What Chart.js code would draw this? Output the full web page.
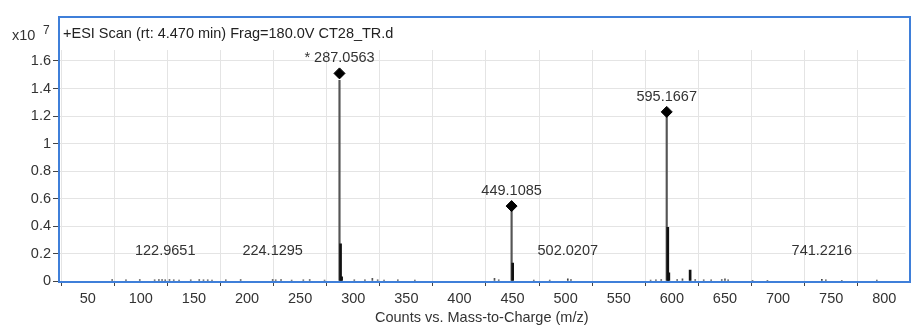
<!DOCTYPE html>
<html>
<head>
<meta charset="utf-8">
<script src="https://cdn.jsdelivr.net/npm/chart.js@4.4.1/dist/chart.umd.min.js"></script>
<style>
  html, body { margin: 0; padding: 0; background: #fff; }
  #wrap { position: relative; width: 912px; height: 329px; }
</style>
</head>
<body>
<div id="wrap"><canvas id="spec"></canvas></div>
<script>
// ── Datos (intensidades en unidades de 1e7) ────────────────
const titleText  = '+ESI Scan (rt: 4.470 min) Frag=180.0V CT28_TR.d';
const xTitle     = 'Counts vs. Mass-to-Charge (m/z)';
const xTicks     = [50, 100, 150, 200, 250, 300, 350, 400, 450, 500, 550, 600, 650, 700, 750, 800];
const yTicks     = [0, 0.2, 0.4, 0.6, 0.8, 1, 1.2, 1.4, 1.6];

// picos principales marcados con rombo
const mainMz     = [287.0563, 449.1085, 595.1667];
const mainInt    = [1.46, 0.52, 1.19];
const markerInt  = [1.51, 0.545, 1.23];
const mainLabels = ['* 287.0563', '449.1085', '595.1667'];

// picos menores rotulados (rótulo a altura fija)
const minorMz     = [122.9651, 224.1295, 502.0207, 741.2216];
const minorInt    = [0.008, 0.01, 0.015, 0.012];
const minorLabelY = 0.218;

// isótopos / picos secundarios
const isoMz  = [288.06, 289.06, 450.11, 596.17, 597.17, 617.2];
const isoInt = [0.27, 0.03, 0.13, 0.39, 0.06, 0.08];

// ruido de fondo
const noiseMz  = [73, 86, 99, 113, 117, 120, 127, 131, 136, 147, 155, 159, 163, 167, 180, 194, 227, 232,
                  242, 253, 259, 273, 301, 311, 318, 323, 329, 342, 358, 433, 437, 470, 485, 505, 580,
                  585, 590, 605, 610, 622, 630, 637, 647, 650, 653, 676, 690, 745, 760, 793];
const noiseInt = [0.01, 0.008, 0.01, 0.008, 0.01, 0.01, 0.01, 0.008, 0.006, 0.008, 0.01, 0.008, 0.008, 0.006, 0.008, 0.01, 0.008, 0.01,
                  0.006, 0.008, 0.01, 0.006, 0.008, 0.008, 0.02, 0.008, 0.006, 0.008, 0.006, 0.02, 0.008, 0.006, 0.006, 0.01, 0.006,
                  0.008, 0.01, 0.01, 0.015, 0.01, 0.008, 0.008, 0.01, 0.015, 0.008, 0.005, 0.005, 0.008, 0.005, 0.006];

const pts = (xs, ys) => xs.map((x, i) => ({ x, y: ys[i] }));
const FONT = 'Liberation Sans, Arial, sans-serif';
const FS = 14.5;
const fmt = v => String(+Number(v).toFixed(1));

// ── Plugin: marco azul, títulos y rótulos ──────────────────
const decor = {
  id: 'decor',
  afterDraw(chart) {
    const { ctx, scales: { x, y } } = chart;
    ctx.save();
    ctx.fillStyle = '#333';
    ctx.textBaseline = 'middle';
    ctx.font = FS + 'px ' + FONT;

    // etiquetas de picos principales
    ctx.textAlign = 'center';
    mainMz.forEach((mz, i) => {
      ctx.fillText(mainLabels[i], x.getPixelForValue(mz), y.getPixelForValue(markerInt[i]) - 15);
    });
    minorMz.forEach(mz => {
      ctx.fillText(mz.toFixed(4), x.getPixelForValue(mz), y.getPixelForValue(minorLabelY));
    });

    // marco
    ctx.strokeStyle = '#3f7fd9';
    ctx.lineWidth = 2;
    ctx.strokeRect(59, 17, 851, 265);

    // título del escaneo
    ctx.textAlign = 'left';
    ctx.fillStyle = '#222';
    ctx.fillText(titleText, 63, 34);

    // multiplicador del eje y
    ctx.fillStyle = '#333';
    ctx.fillText('x10', 12, 36);
    ctx.font = '12px ' + FONT;
    ctx.fillText('7', 43, 31);

    // título del eje x
    ctx.font = FS + 'px ' + FONT;
    ctx.textAlign = 'center';
    ctx.fillText(xTitle, (chart.chartArea.left + chart.chartArea.right) / 2, 318);
    ctx.restore();
  }
};

new Chart(document.getElementById('spec'), {
  type: 'bar',
  data: {
    datasets: [
      {
        type: 'scatter', label: 'marcadores', data: pts(mainMz, markerInt),
        pointStyle: 'rectRot', pointRadius: 5.5, backgroundColor: '#000', borderColor: '#000', order: 0
      },
      { label: 'isótopos', data: pts(isoMz, isoInt), backgroundColor: '#111', barThickness: 2, order: 1 },
      { label: 'principales', data: pts(mainMz, mainInt), backgroundColor: '#555', barThickness: 1.5, order: 2 },
      { label: 'menores', data: pts(minorMz, minorInt), backgroundColor: '#444', barThickness: 1, order: 3 },
      { label: 'ruido', data: pts(noiseMz, noiseInt), backgroundColor: '#555', barThickness: 1, order: 4 }
    ]
  },
  options: {
    responsive: true, maintainAspectRatio: false, animation: false,
    layout: { padding: { top: 50, right: 2, left: 0, bottom: 0 } },
    datasets: { bar: { grouped: false } },
    plugins: { legend: { display: false }, tooltip: { enabled: false } },
    scales: {
      x: {
        type: 'linear', min: 22, max: 820, offset: false,
        afterFit: s => { s.height = 48; },
        afterBuildTicks: s => { s.ticks = xTicks.map(v => ({ value: v })); },
        grid: { color: '#e4e4e4', tickColor: '#444', tickLength: 5 },
        border: { display: false },
        ticks: { color: '#333', font: { family: FONT, size: FS }, padding: 4, maxRotation: 0, autoSkip: false }
      },
      y: {
        min: 0, max: 1.68,
        afterFit: s => { s.width = 58; },
        afterBuildTicks: s => { s.ticks = yTicks.map(v => ({ value: v })); },
        grid: { color: '#e4e4e4', tickColor: '#444', tickLength: 5 },
        border: { color: '#555', width: 1 },
        ticks: { color: '#333', font: { family: FONT, size: FS }, padding: 2, callback: fmt }
      }
    }
  },
  plugins: [decor]
});
</script>
</body>
</html>
